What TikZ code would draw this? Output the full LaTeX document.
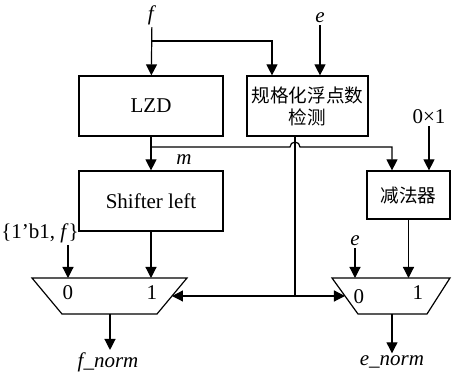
\documentclass[tikz,border=0pt]{standalone}
\usepackage{fontspec}
\setmainfont{Liberation Serif}
\newfontfamily\cjk{Noto Sans CJK SC}
\usepackage{tikz}
\usetikzlibrary{arrows.meta,positioning,shapes.geometric,calc}

\begin{document}
\begin{tikzpicture}[x=0.5pt, y=-0.5pt,
    blk/.style={rectangle, draw, line width=0.6pt, minimum width=72pt, minimum height=30pt,
                inner sep=1pt, font=\fontsize{10.5}{12}\selectfont, align=center},
    muxline/.style={draw, line width=0.6pt},
    arr/.style={-{Triangle[length=5.5pt,width=5.5pt]}, line width=0.6pt},
    darr/.style={{Triangle[length=5.5pt,width=5.5pt]}-{Triangle[length=5.5pt,width=5.5pt]}, line width=0.6pt},
    sig/.style={font=\fontsize{10.5}{12}\selectfont, inner sep=1pt},
    pin/.style={font=\fontsize{10.5}{12}\selectfont, inner sep=0pt}
]
\useasboundingbox (0,0) rectangle (452,374);

% blocks
\node[blk] (lzd) at (151,106) {LZD};
\node[blk, minimum width=60.5pt] (norm) at (307.5,106) {\cjk\fontsize{9.3}{12}\selectfont 规格化浮点数\\[-1pt]\cjk\fontsize{9.3}{12}\selectfont 检测};
\node[blk] (shl) at (151,201) {Shifter left};
\node[blk, minimum width=41.5pt, minimum height=24pt] (sub) at (408.5,195) {\cjk\fontsize{9.3}{12}\selectfont 减法器};

% muxes
\draw[muxline] (32,278) -- (187,278) -- (157,314) -- (62,314) -- cycle;
\draw[muxline] (332,278) -- (450,278) -- (427,314) -- (358,314) -- cycle;
\coordinate (muxLe) at (172,296);
\coordinate (muxRw) at (345,296);
\node[pin] (l0) at (68,293) {0};
\node[pin] (l1) at (152,293) {1};
\node[pin] (r0) at (359,297) {0};
\node[pin] (r1) at (418,293) {1};

% signals
\node[sig] (f) at (152,15) {\textit{f}};
\node[sig] (e) at (320,18) {\textit{e}};
\node[sig] (zx) at (429,117) {0×1};
\node[sig] (m) at (184,160) {\textit{m}};
\node[sig] (cat) at (40,233) {\{1'b1, \textit{f}\}};
\node[sig] (e2) at (355,241) {\textit{e}};
\node[sig] (fn) at (108,362) {\textit{f\_norm}};
\node[sig] (en) at (392,362) {\textit{e\_norm}};
\coordinate (fsplit) at (152,41);
\coordinate (msplit) at (152,147);
\coordinate (catin) at (68,245);
\coordinate (sel) at (295,296);
\coordinate (muxLtop) at (0,278);
\coordinate (muxLbot) at (110,314);
\coordinate (muxRbot) at (392,314);

\draw[arr] (f) -- (lzd);
\draw[arr] (fsplit) -| ([xshift=-17.75pt]norm.north);
\draw[arr] (e) -- (e |- norm.north);
\draw[arr] (lzd) -- (shl);
\draw[arr] (msplit) -- (290,147) arc[start angle=180, end angle=0, radius=2.5pt]
    -- (392,147) -- (392,0 |- sub.north);
\draw[arr] (zx) -- (zx |- sub.north);
\draw[line width=0.6pt] (sel |- norm.south) -- (sel);
\draw[darr] (muxLe) -- (muxRw);
\draw[arr] (catin) -- (catin |- muxLtop);
\draw[arr] (shl) -- (shl.south |- muxLtop);
\draw[arr] (e2) -- (e2 |- muxLtop);
\draw[arr] (sub) -- (sub.south |- muxLtop);
\draw[arr] (muxLbot) -- (muxLbot |- fn.north);
\draw[arr] (muxRbot) -- (muxRbot |- en.north);
\end{tikzpicture}
\end{document}
